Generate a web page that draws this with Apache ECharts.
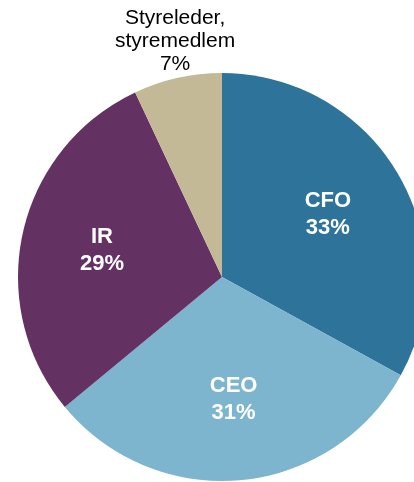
<!DOCTYPE html>
<html>
<head>
<meta charset="utf-8">
<script src="https://cdn.jsdelivr.net/npm/echarts@6/dist/echarts.min.js"></script>
<style>
  html, body { margin: 0; padding: 0; background: #fff; }
  #chart { width: 414px; height: 482px; }
</style>
</head>
<body>
<div id="chart"></div>
<script>
// roles, share in %
const categories = ['CFO', 'CEO', 'IR', 'Styreleder,\nstyremedlem']
const shares = [33, 31, 29, 7]
const colors = ['#2E7399', '#7DB5CF', '#633263', '#C4B997']
const insideLabel = [true, true, true, false]

const chart = echarts.init(document.getElementById('chart'))

const pieData = categories.map((name, i) => ({
  name,
  value: shares[i],
  itemStyle: { color: colors[i] },
  label: insideLabel[i] ? { show: false } : {
    show: true,
    position: 'outside',
    distance: 0,
    color: '#000',
    fontSize: 21,
    lineHeight: 23,
    fontFamily: 'Liberation Sans, Arial, sans-serif',
  },
  labelLine: { show: false, length: 34, length2: 0 },
}))

// transparent ring only used to place the inside labels a bit further out
const labelData = categories.map((name, i) => ({
  name,
  value: shares[i],
  label: { show: insideLabel[i] },
}))

chart.setOption({
  animation: false,
  series: [
    {
      type: 'pie',
      center: [222, 277],
      radius: [0, 204],
      startAngle: 90,
      avoidLabelOverlap: false,
      silent: true,
      label: { formatter: '{b}\n{c}%' },
      labelLayout: (p) => (p.dataIndex === 3 ? { align: 'center', dx: 10, dy: -4 } : {}),
      data: pieData,
    },
    {
      type: 'pie',
      center: [222, 277],
      radius: [36, 204],
      startAngle: 90,
      avoidLabelOverlap: false,
      silent: true,
      itemStyle: { color: 'rgba(0,0,0,0)' },
      label: {
        position: 'inside',
        formatter: '{b}\n{c}%',
        color: '#fff',
        fontSize: 22,
        fontWeight: 'bold',
        lineHeight: 27,
        fontFamily: 'Liberation Sans, Arial, sans-serif',
      },
      labelLine: { show: false },
      data: labelData,
    },
  ],
})
</script>
</body>
</html>
